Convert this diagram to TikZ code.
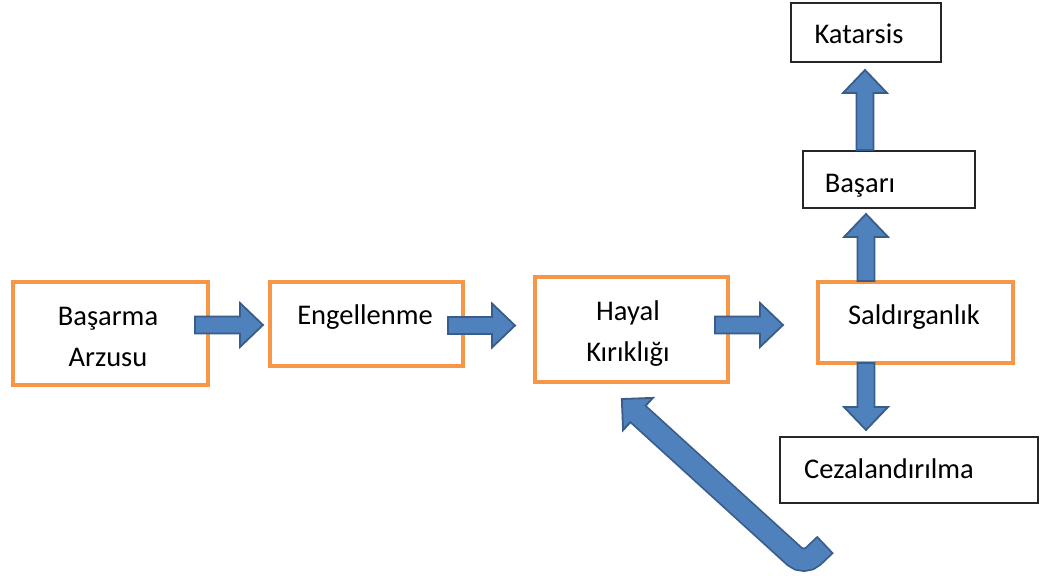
\documentclass[tikz,border=0pt]{standalone}
\usepackage{fontspec}
\setmainfont{Carlito}
\usetikzlibrary{calc}
\definecolor{aFill}{HTML}{4F81BD}
\definecolor{aLine}{HTML}{385D8A}
\definecolor{oLine}{HTML}{F79646}
\tikzset{
  obox/.style={draw=oLine, line width=3.5pt, fill=white, rectangle, inner sep=0pt},
  kbox/.style={draw=black!85, line width=1.5pt, fill=white, rectangle, inner sep=0pt},
  lbl/.style={font=\fontsize{28.5}{41}\selectfont, inner sep=0pt, align=center},
  barrow/.style={fill=aFill, draw=aLine, line width=1.8pt, line join=miter},
}
\newcommand\blockarrow[2]{%
  \path ($(#2)!23pt!(#1)$) coordinate (hb);
  \draw[barrow] ($(#1)!8.5pt!90:(#2)$) -- ($(hb)!8.5pt!90:(#2)$) -- ($(hb)!22pt!90:(#2)$)
    -- (#2) -- ($(hb)!22pt!-90:(#2)$) -- ($(hb)!8.5pt!-90:(#2)$) -- ($(#1)!8.5pt!-90:(#2)$) -- cycle;}
\begin{document}
\begin{tikzpicture}[x=1pt,y=-1pt]
\useasboundingbox (0,0) rectangle (1048,581);
\fill[white] (0,0) rectangle (1048,581);
% boxes
\node[obox, minimum width=195pt, minimum height=103pt] (b1) at (110.5,333.5) {};
\node[obox, minimum width=193pt, minimum height=84pt] (b2) at (366.5,324) {};
\node[obox, minimum width=193pt, minimum height=105pt] (b3) at (631.5,329.5) {};
\node[obox, minimum width=195pt, minimum height=81pt] (b4) at (915.5,322.5) {};
\node[kbox, minimum width=150pt, minimum height=59pt] (b5) at (866,32.5) {};
\node[kbox, minimum width=172pt, minimum height=57pt] (b6) at (889,179.5) {};
\node[kbox, minimum width=258pt, minimum height=66pt] (b7) at (909,470) {};
% labels
\node[lbl, anchor=base] (t1) at (108,366) {Başarma\\Arzusu};
\node[lbl, anchor=base] (t2) at (365,324) {Engellenme};
\node[lbl, anchor=base] (t3) at (628,361) {Hayal\\Kırıklığı};
\node[lbl, anchor=base] (t4) at (914,324) {Saldırganlık};
\node[lbl, anchor=base] (t5) at (859,43) {Katarsis};
\node[lbl, anchor=base] (t6) at (860,192) {Başarı};
\node[lbl, anchor=base] (t7) at (889,478) {Cezalandırılma};
% straight block arrows
\coordinate (a1s) at (195,325); \coordinate (a1e) at (263,325);
\coordinate (a2s) at (448,325.5); \coordinate (a2e) at (515,325.5);
\coordinate (a3s) at (715,325); \coordinate (a3e) at (783,325);
\coordinate (a4s) at (866,281); \coordinate (a4e) at (866,214);
\coordinate (a5s) at (865,150); \coordinate (a5e) at (865,70);
\coordinate (a6s) at (866,363); \coordinate (a6e) at (866,430);
\blockarrow{a1s}{a1e}
\blockarrow{a2s}{a2e}
\blockarrow{a3s}{a3e}
\blockarrow{a4s}{a4e}
\blockarrow{a5s}{a5e}
\blockarrow{a6s}{a6e}
% bent return arrow
\coordinate (ctip) at (621.8,399);
\coordinate (cbase) at (638,414);
\coordinate (cbend) at (804,565);
\coordinate (cend) at (825.5,544.5);
\draw[aLine, line width=24pt, rounded corners=13pt] (cbase) -- (cbend) -- (cend);
\draw[barrow] ($(cbase)!22pt!90:(ctip)$) -- (ctip) -- ($(cbase)!22pt!-90:(ctip)$) -- cycle;
\draw[aFill, line width=20.5pt, rounded corners=13pt, shorten >=1.8pt] ($(cbase)!3pt!(ctip)$) -- (cbend) -- (cend);
\end{tikzpicture}
\end{document}
